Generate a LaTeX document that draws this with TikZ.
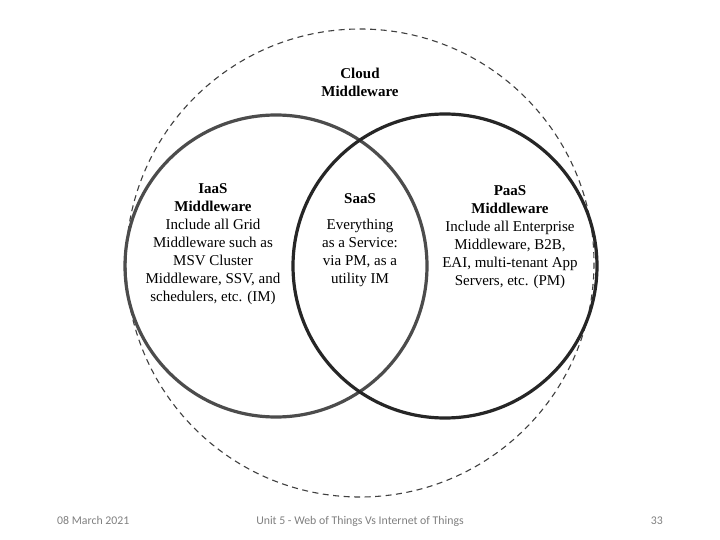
\documentclass[tikz,border=0pt]{standalone}
\usepackage{fontspec}
\setmainfont{Liberation Serif}
\newfontfamily\footfont{Carlito}
\begin{document}
\begin{tikzpicture}[x=1pt,y=-1pt,
  ring/.style={line width=3.2pt},
  lbl/.style={align=center,font=\fontsize{15}{18}\selectfont,inner sep=0pt,text=black},
  foot/.style={font=\footfont\fontsize{11.8}{13}\selectfont,text=black!50,inner sep=0pt}]
\useasboundingbox (0,0) rectangle (720,540);
\fill[white] (0,0) rectangle (720,540);
\draw[black!75,line width=1.1pt,dash pattern=on 6pt off 4.5pt] (360,263) circle[radius=234];
\draw[ring,black!70] (276,266) circle[radius=151];
\draw[ring,black!85] (445,266) circle[radius=152];
\node[lbl,anchor=north] (cloud) at (360,68) {\textbf{Cloud}\\\textbf{Middleware}};
\node[lbl,anchor=north] (iaas) at (213,183) {\textbf{IaaS}\\\textbf{Middleware}\\Include all Grid\\Middleware such as\\MSV Cluster\\Middleware, SSV, and\\schedulers, etc. (IM)};
\node[lbl,anchor=north] (saas) at (360,193) {\textbf{SaaS}};
\node[lbl,anchor=north] (saasd) at (360,219) {Everything\\as a Service:\\via PM, as a\\utility IM};
\node[lbl,anchor=north] (paas) at (510,185) {\textbf{PaaS}\\\textbf{Middleware}\\Include all Enterprise\\Middleware, B2B,\\EAI, multi-tenant App\\Servers, etc. (PM)};
\node[foot,anchor=base west] (date) at (57,524) {08 March 2021};
\node[foot,anchor=base] (title) at (360,524) {Unit 5 - Web of Things Vs Internet of Things};
\node[foot,anchor=base east] (page) at (663,524) {33};
\end{tikzpicture}
\end{document}
